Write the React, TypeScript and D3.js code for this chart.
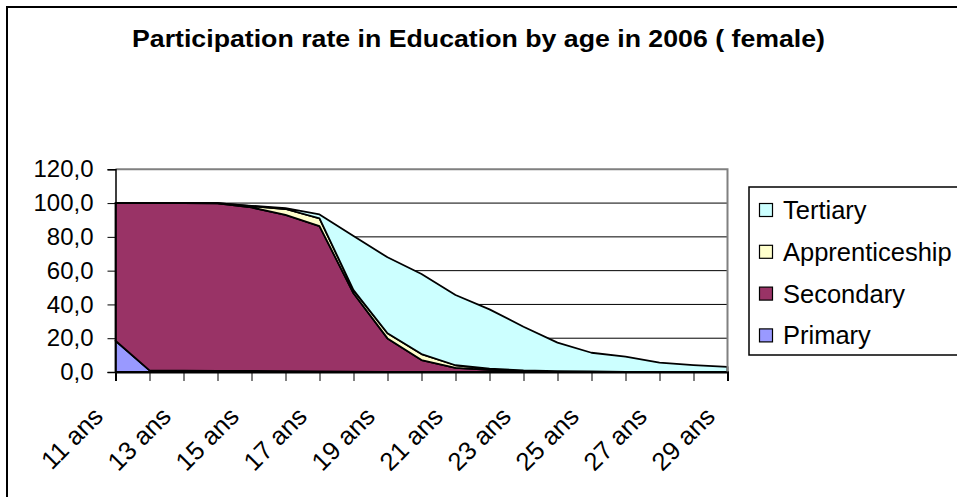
import * as d3 from "d3";
import { useEffect, useRef } from "react";

const ages = [
  "11 ans", "12 ans", "13 ans", "14 ans", "15 ans", "16 ans", "17 ans",
  "18 ans", "19 ans", "20 ans", "21 ans", "22 ans", "23 ans", "24 ans",
  "25 ans", "26 ans", "27 ans", "28 ans", "29 ans",
];
const primary = [18.5, 1.0, 0.8, 0.7, 0.6, 0.5, 0.4, 0.2, 0, 0, 0, 0, 0, 0, 0, 0, 0, 0, 0];
const secondary = [81.5, 99.0, 99.2, 99.1, 96.8, 92.5, 86.0, 46.4, 19.9, 7.1, 2.5, 1.2, 0.6, 0.3, 0.2, 0.1, 0, 0, 0];
const apprenticeship = [0, 0, 0, 0.2, 0.8, 3.5, 4.6, 1.9, 3.0, 3.5, 1.5, 0.8, 0.4, 0.2, 0.1, 0, 0, 0, 0];
const tertiary = [0, 0, 0, 0, 0.2, 0.5, 2.3, 32.0, 45.0, 47.4, 41.6, 35.1, 25.8, 16.9, 11.1, 9.0, 5.5, 4.1, 3.0];
const yTicks = [0, 20, 40, 60, 80, 100, 120];

const seriesKeys = ["Primary", "Secondary", "Apprenticeship", "Tertiary"];
const seriesColors: Record<string, string> = {
  Primary: "#9999FF",
  Secondary: "#993366",
  Apprenticeship: "#FFFFCC",
  Tertiary: "#CCFFFF",
};

const title = "Participation rate in Education by age in 2006 ( female)";
const font = "'Liberation Sans', Arial, sans-serif";
const plot = { left: 115.5, right: 727.5, top: 169.3, bottom: 372 };

export default function App() {
  const svgRef = useRef<SVGSVGElement | null>(null);

  useEffect(() => {
    if (!svgRef.current) return;
    draw(svgRef.current);
  }, []);

  return (
    <svg
      ref={svgRef}
      width={957}
      height={497}
      style={{ position: "absolute", left: 0, top: 0, background: "#fff" }}
    />
  );
}

function draw(svgElement: SVGSVGElement) {
  const svg = d3.select(svgElement);
  svg.selectAll("*").remove();

  const table = ages.map((age, i) => ({
    age,
    Primary: primary[i],
    Secondary: secondary[i],
    Apprenticeship: apprenticeship[i],
    Tertiary: tertiary[i],
  }));

  const stacked = d3.stack<any>().keys(seriesKeys)(table);

  const x = d3.scalePoint<string>().domain(ages).range([plot.left, plot.right]);
  const y = d3.scaleLinear().domain([0, 120]).range([plot.bottom, plot.top]);
  const fmt = d3.formatLocale({
    decimal: ",",
    thousands: " ",
    grouping: [3],
    currency: ["", "€"],
  }).format(".1f");

  // outer frame (runs off the right and bottom edges)
  svg
    .append("rect")
    .attr("x", 7)
    .attr("y", 7)
    .attr("width", 1000)
    .attr("height", 1000)
    .attr("fill", "#fff")
    .attr("stroke", "#000")
    .attr("stroke-width", 2);

  svg
    .append("text")
    .attr("x", 478.5)
    .attr("y", 47)
    .attr("text-anchor", "middle")
    .attr("font-family", font)
    .attr("font-weight", "bold")
    .attr("font-size", 23)
    .attr("textLength", 693)
    .attr("lengthAdjust", "spacingAndGlyphs")
    .text(title);

  // gridlines
  svg
    .append("g")
    .selectAll("line")
    .data(yTicks.filter((t) => t > 0 && t < 120))
    .join("line")
    .attr("x1", plot.left)
    .attr("x2", plot.right)
    .attr("y1", (t) => y(t))
    .attr("y2", (t) => y(t))
    .attr("stroke", "#000")
    .attr("stroke-width", 1);

  const area = d3
    .area<any>()
    .x((d) => x(d.data.age) as number)
    .y0((d) => y(d[0]))
    .y1((d) => y(d[1]));

  svg
    .append("g")
    .selectAll("path")
    .data(stacked)
    .join("path")
    .attr("d", (s) => area(s) + "Z")
    .attr("fill", (s) => seriesColors[s.key])
    .attr("stroke", "#000")
    .attr("stroke-width", 1.8)
    .attr("stroke-linejoin", "round");

  // plot border top/right
  svg
    .append("path")
    .attr("d", `M${plot.left},${plot.top}H${plot.right}V${plot.bottom}`)
    .attr("fill", "none")
    .attr("stroke", "#808080")
    .attr("stroke-width", 2);

  // y axis
  svg
    .append("g")
    .attr("transform", `translate(${plot.left},0)`)
    .call(
      d3
        .axisLeft(y)
        .tickValues(yTicks)
        .tickSize(8)
        .tickPadding(14)
        .tickFormat((d) => fmt(d as number))
    )
    .call((g) => g.select(".domain").attr("stroke", "#000").attr("stroke-width", 1.5))
    .call((g) =>
      g
        .selectAll("text")
        .attr("font-family", font)
        .attr("font-size", 24)
        .attr("fill", "#000")
    );

  // x axis
  const xAxis = svg
    .append("g")
    .attr("transform", `translate(0,${plot.bottom})`)
    .call(d3.axisBottom(x).tickSize(9).tickFormat(() => ""))
    .call((g) => g.select(".domain").attr("stroke", "#000").attr("stroke-width", 2));
  xAxis.selectAll("text").remove();

  svg
    .append("g")
    .selectAll("text")
    .data(ages.filter((_, i) => i % 2 === 0))
    .join("text")
    .attr("transform", (a) => `translate(${(x(a) as number) - 11},418) rotate(-45)`)
    .attr("text-anchor", "end")
    .attr("font-family", font)
    .attr("font-size", 25.5)
    .attr("fill", "#000")
    .text((a) => a);

  // legend
  const legend = svg.append("g");
  legend
    .append("rect")
    .attr("x", 749)
    .attr("y", 187)
    .attr("width", 260)
    .attr("height", 168)
    .attr("fill", "#fff")
    .attr("stroke", "#000")
    .attr("stroke-width", 1.5);

  const legendKeys = [...seriesKeys].reverse();
  const items = legend
    .selectAll("g")
    .data(legendKeys)
    .join("g")
    .attr("transform", (_, i) => `translate(0,${210 + i * 41.8})`);

  items
    .append("rect")
    .attr("x", 759.5)
    .attr("y", -6.5)
    .attr("width", 13)
    .attr("height", 13)
    .attr("fill", (k) => seriesColors[k])
    .attr("stroke", "#000")
    .attr("stroke-width", 1.2);

  items
    .append("text")
    .attr("x", 783)
    .attr("y", 9)
    .attr("font-family", font)
    .attr("font-size", 25.5)
    .attr("fill", "#000")
    .text((k) => k);
}
